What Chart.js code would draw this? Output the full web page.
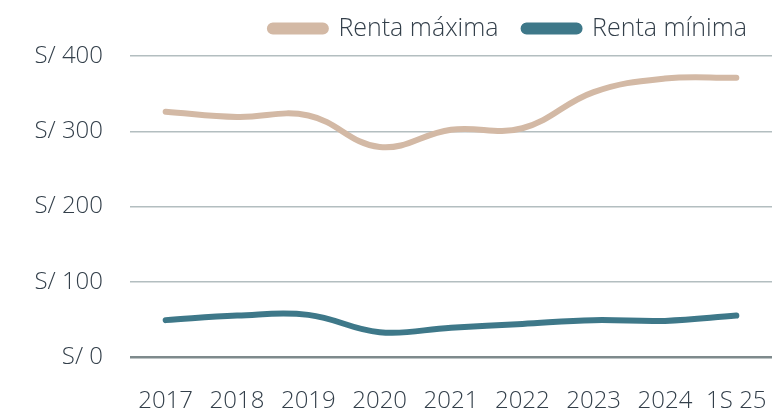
<!DOCTYPE html>
<html>
<head>
<meta charset="utf-8">
<script src="https://cdn.jsdelivr.net/npm/chart.js@4.4.1/dist/chart.umd.min.js"></script>
<style>
  html, body { margin: 0; padding: 0; background: #fff; }
</style>
</head>
<body>
<canvas id="mycanvas" width="772" height="413"></canvas>
<script>
// data
var years = ["2017", "2018", "2019", "2020", "2021", "2022", "2023", "2024", "1S 25"];
var rentaMaxima = [326, 319, 321, 279, 302, 304, 352, 370, 371];
var rentaMinima = [49, 55, 56, 33, 39, 44, 49, 48, 55];
var yTicks = [0, 100, 200, 300, 400];

var tan = '#D3B9A5';
var teal = '#3E7889';
var textColor = '#333F4A';

Chart.defaults.font.family = "'Open Sans', sans-serif";
Chart.defaults.font.size = 24;
Chart.defaults.font.weight = 300;
Chart.defaults.color = textColor;

// fixed legend height so the plot starts where the original does
var legendGap = {
	id: 'legendGap',
	beforeInit: function(chart) {
		var fit = chart.legend.fit;
		chart.legend.fit = function() {
			fit.bind(chart.legend)();
			this.height = 65;
		};
	}
};

var ctx = document.getElementById('mycanvas');
new Chart(ctx, {
	type: 'line',
	data: {
		labels: years,
		datasets: [
			{
				label: 'Renta máxima',
				data: rentaMaxima,
				borderColor: tan,
				backgroundColor: tan,
				borderWidth: 6,
				borderCapStyle: 'round',
				pointRadius: 0,
				tension: 0.4
			},
			{
				label: 'Renta mínima',
				data: rentaMinima,
				borderColor: teal,
				backgroundColor: teal,
				borderWidth: 6,
				borderCapStyle: 'round',
				pointRadius: 0,
				tension: 0.4
			}
		]
	},
	options: {
		responsive: false,
		animation: false,
		layout: { padding: { top: -9, right: 0, bottom: 0, left: 0 } },
		plugins: {
			legend: {
				position: 'top',
				align: 'end',
				labels: {
					boxWidth: 56,
					boxHeight: 6,
					useBorderRadius: true,
					borderRadius: 3,
					padding: 25,
					color: textColor,
					font: { size: 25, weight: 300 }
				}
			},
			tooltip: { enabled: false }
		},
		scales: {
			x: {
				offset: true,
				afterFit: function(scale) {
					scale.height = 56;
					scale.paddingLeft = 0;
					scale.paddingRight = 0;
				},
				grid: { display: false, drawTicks: false },
				border: { display: false },
				ticks: { padding: 30, maxRotation: 0, autoSkip: false }
			},
			y: {
				min: 0,
				max: 400,
				afterFit: function(scale) { scale.width = 130; },
				afterBuildTicks: function(scale) {
					scale.ticks = yTicks.map(function(v) { return { value: v }; });
				},
				grid: {
					drawTicks: false,
					color: function(c) { return c.tick && c.tick.value === 0 ? '#7E8A8C' : '#B3BEC0'; },
					lineWidth: function(c) { return c.tick && c.tick.value === 0 ? 2.5 : 1.5; }
				},
				border: { display: false },
				ticks: {
					padding: 27,
					callback: function(v) { return 'S/ ' + v; }
				}
			}
		}
	},
	plugins: [legendGap]
});
</script>
</body>
</html>
